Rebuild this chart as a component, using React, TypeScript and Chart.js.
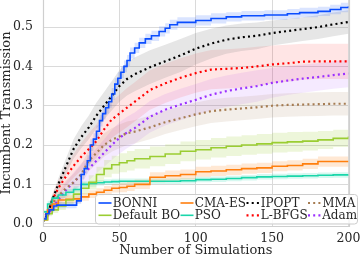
import React, { useEffect, useRef } from 'react';
import { Chart, registerables } from 'chart.js';
Chart.register(...registerables);

// ---------- data ----------
const X = [0, 3, 6, 10, 15, 20, 25, 30, 35, 40, 45, 50, 55, 60, 70, 80, 90, 100, 110, 120, 130, 140, 150, 160, 170, 180, 190, 200];

const BONNI_X = [0, 2, 4, 7, 9, 22, 25, 27, 29, 31, 33, 35, 37, 39, 41, 43, 45, 47, 49, 51, 53, 55, 57, 60, 63, 67, 71, 76, 80, 83, 88, 100, 110, 120, 130, 145, 160, 168, 180, 188, 195, 200];
const BONNI = [0.012, 0.025, 0.035, 0.045, 0.047, 0.058, 0.125, 0.14, 0.16, 0.2, 0.215, 0.235, 0.262, 0.28, 0.295, 0.31, 0.33, 0.355, 0.37, 0.385, 0.4, 0.415, 0.434, 0.447, 0.46, 0.47, 0.478, 0.489, 0.497, 0.506, 0.512, 0.517, 0.522, 0.526, 0.529, 0.531, 0.534, 0.537, 0.54, 0.545, 0.55, 0.553];
const BONNI_SD = [0.004, 0.005, 0.006, 0.007, 0.008, 0.008, 0.012, 0.013, 0.014, 0.015, 0.015, 0.015, 0.015, 0.015, 0.015, 0.015, 0.015, 0.015, 0.015, 0.015, 0.015, 0.014, 0.014, 0.013, 0.013, 0.013, 0.013, 0.013, 0.013, 0.013, 0.013, 0.013, 0.013, 0.012, 0.012, 0.012, 0.012, 0.012, 0.012, 0.012, 0.012, 0.012];

const DEFAULT_BO = [0.01, 0.025, 0.035, 0.045, 0.06, 0.075, 0.09, 0.105, 0.125, 0.14, 0.15, 0.155, 0.16, 0.165, 0.171, 0.177, 0.184, 0.188, 0.193, 0.197, 0.2, 0.203, 0.206, 0.208, 0.21, 0.213, 0.217, 0.222];
const DEFAULT_BO_SD = [0.003, 0.006, 0.008, 0.01, 0.012, 0.014, 0.016, 0.018, 0.02, 0.022, 0.023, 0.024, 0.025, 0.025, 0.025, 0.025, 0.025, 0.025, 0.025, 0.025, 0.025, 0.025, 0.025, 0.025, 0.024, 0.023, 0.022, 0.022];

const CMA_ES = [0.01, 0.035, 0.05, 0.06, 0.062, 0.063, 0.068, 0.075, 0.08, 0.085, 0.09, 0.092, 0.095, 0.1, 0.118, 0.122, 0.125, 0.132, 0.134, 0.137, 0.14, 0.142, 0.146, 0.148, 0.152, 0.158, 0.158, 0.158];
const CMA_ES_SD = [0.003, 0.008, 0.01, 0.01, 0.01, 0.01, 0.01, 0.01, 0.01, 0.011, 0.011, 0.012, 0.012, 0.012, 0.013, 0.013, 0.013, 0.013, 0.013, 0.013, 0.013, 0.013, 0.013, 0.013, 0.013, 0.013, 0.013, 0.013];

const PSO = [0.03, 0.05, 0.065, 0.073, 0.08, 0.087, 0.1, 0.102, 0.104, 0.106, 0.107, 0.108, 0.108, 0.108, 0.108, 0.108, 0.109, 0.112, 0.113, 0.115, 0.117, 0.119, 0.12, 0.121, 0.122, 0.123, 0.124, 0.125];
const PSO_SD = [0.005, 0.008, 0.008, 0.008, 0.008, 0.008, 0.008, 0.008, 0.007, 0.007, 0.007, 0.007, 0.007, 0.007, 0.007, 0.007, 0.007, 0.007, 0.007, 0.007, 0.007, 0.007, 0.007, 0.007, 0.007, 0.007, 0.007, 0.007];

const IPOPT = [0.005, 0.023, 0.06, 0.1, 0.145, 0.19, 0.22, 0.245, 0.275, 0.3, 0.325, 0.35, 0.368, 0.38, 0.398, 0.413, 0.428, 0.445, 0.458, 0.468, 0.474, 0.478, 0.485, 0.49, 0.495, 0.5, 0.507, 0.513];
const IPOPT_SD = [0.003, 0.008, 0.012, 0.015, 0.02, 0.025, 0.028, 0.03, 0.033, 0.035, 0.037, 0.04, 0.042, 0.043, 0.043, 0.042, 0.042, 0.04, 0.038, 0.036, 0.035, 0.034, 0.032, 0.031, 0.03, 0.03, 0.03, 0.03];

const L_BFGS = [0.01, 0.03, 0.06, 0.09, 0.12, 0.147, 0.17, 0.19, 0.21, 0.24, 0.265, 0.28, 0.295, 0.31, 0.34, 0.357, 0.371, 0.383, 0.392, 0.394, 0.396, 0.4, 0.405, 0.408, 0.412, 0.413, 0.413, 0.413];
const L_BFGS_SD = [0.003, 0.01, 0.015, 0.02, 0.025, 0.03, 0.035, 0.04, 0.043, 0.045, 0.047, 0.048, 0.05, 0.05, 0.05, 0.05, 0.05, 0.05, 0.05, 0.05, 0.05, 0.05, 0.048, 0.047, 0.046, 0.045, 0.045, 0.045];

const MMA = [0.01, 0.03, 0.05, 0.07, 0.09, 0.105, 0.125, 0.16, 0.18, 0.2, 0.213, 0.222, 0.23, 0.234, 0.245, 0.258, 0.268, 0.278, 0.286, 0.29, 0.293, 0.296, 0.3, 0.302, 0.303, 0.304, 0.305, 0.305];
const MMA_SD = [0.003, 0.01, 0.015, 0.018, 0.02, 0.022, 0.025, 0.027, 0.028, 0.03, 0.03, 0.03, 0.03, 0.03, 0.03, 0.03, 0.03, 0.03, 0.03, 0.03, 0.03, 0.03, 0.03, 0.03, 0.03, 0.03, 0.03, 0.03];

const ADAM = [0.01, 0.02, 0.04, 0.06, 0.085, 0.105, 0.125, 0.14, 0.16, 0.18, 0.2, 0.218, 0.232, 0.243, 0.272, 0.29, 0.303, 0.315, 0.328, 0.337, 0.344, 0.35, 0.358, 0.364, 0.369, 0.373, 0.378, 0.382];
const ADAM_SD = [0.003, 0.008, 0.012, 0.015, 0.02, 0.025, 0.028, 0.03, 0.032, 0.035, 0.038, 0.04, 0.04, 0.04, 0.04, 0.04, 0.04, 0.04, 0.04, 0.04, 0.04, 0.04, 0.038, 0.037, 0.036, 0.035, 0.035, 0.035];

const LABELS = ['BONNI', 'Default BO', 'CMA-ES', 'PSO', 'IPOPT', 'L-BFGS', 'MMA', 'Adam'];
const XS = [BONNI_X, X, X, X, X, X, X, X];
const VALUES = [BONNI, DEFAULT_BO, CMA_ES, PSO, IPOPT, L_BFGS, MMA, ADAM];
const SPREADS = [BONNI_SD, DEFAULT_BO_SD, CMA_ES_SD, PSO_SD, IPOPT_SD, L_BFGS_SD, MMA_SD, ADAM_SD];

const X_TICKS = [0, 50, 100, 150, 200];
const Y_TICKS = [0.0, 0.1, 0.2, 0.3, 0.4, 0.5];
const X_TITLE = 'Number of Simulations';
const Y_TITLE = 'Incumbent Transmission';

// ---------- styles ----------
const STYLES = [
  { color: '#0a4dff', band: 'rgba(10,77,255,0.15)', dotted: false, stepped: true },
  { color: '#9acd32', band: 'rgba(154,205,50,0.18)', dotted: false, stepped: true },
  { color: '#ff7f0e', band: 'rgba(255,127,14,0.18)', dotted: false, stepped: true },
  { color: '#1ad6aa', band: 'rgba(26,214,170,0.18)', dotted: false, stepped: true },
  { color: '#000000', band: 'rgba(128,128,128,0.2)', dotted: true, stepped: false },
  { color: '#ff0000', band: 'rgba(255,0,0,0.1)', dotted: true, stepped: false },
  { color: '#a67c52', band: 'rgba(166,124,82,0.13)', dotted: true, stepped: false },
  { color: '#9b30ff', band: 'rgba(155,48,255,0.1)', dotted: true, stepped: false },
];

const FONT = 'DejaVu Serif';
const TEXT = '#262626';

const framePlugin = {
  id: 'frame',
  afterDatasetsDraw(chart: any) {
    const { ctx, chartArea: a } = chart;
    ctx.save();
    ctx.strokeStyle = '#cfcfcf';
    ctx.lineWidth = 1.2;
    ctx.beginPath();
    ctx.moveTo(Math.round(a.left) + 0.5, a.top);
    ctx.lineTo(Math.round(a.left) + 0.5, Math.round(a.bottom) + 0.5);
    ctx.lineTo(Math.round(a.right) + 0.5, Math.round(a.bottom) + 0.5);
    ctx.lineTo(Math.round(a.right) + 0.5, a.top);
    ctx.stroke();
    ctx.restore();
  },
};

const LEGEND_BOX = { x: 95.5, y: 194.5, w: 262, h: 29.5 };
const LEGEND_COLS = [98.5, 180.5, 246.5, 308];
const LEGEND_ROWS = [203, 215.3];

const legendPlugin = {
  id: 'boxLegend',
  afterDraw(chart: any) {
    const { ctx } = chart;
    ctx.save();
    ctx.font = `12px "${FONT}"`;
    const handle = 13;
    const pad = 1.2;
    const { x: x0, y: y0, w, h } = LEGEND_BOX;
    const r = 3;
    ctx.beginPath();
    ctx.moveTo(x0 + r, y0);
    ctx.lineTo(x0 + w - r, y0);
    ctx.arcTo(x0 + w, y0, x0 + w, y0 + r, r);
    ctx.lineTo(x0 + w, y0 + h - r);
    ctx.arcTo(x0 + w, y0 + h, x0 + w - r, y0 + h, r);
    ctx.lineTo(x0 + r, y0 + h);
    ctx.arcTo(x0, y0 + h, x0, y0 + h - r, r);
    ctx.lineTo(x0, y0 + r);
    ctx.arcTo(x0, y0, x0 + r, y0, r);
    ctx.closePath();
    ctx.fillStyle = 'rgba(255,255,255,0.8)';
    ctx.fill();
    ctx.strokeStyle = '#cccccc';
    ctx.lineWidth = 1;
    ctx.stroke();
    for (let c = 0; c < 4; c++) {
      const cx = LEGEND_COLS[c];
      for (let rr = 0; rr < 2; rr++) {
        const i = c * 2 + rr;
        const st = STYLES[i];
        const y = LEGEND_ROWS[rr];
        ctx.beginPath();
        ctx.strokeStyle = st.color;
        ctx.lineWidth = st.dotted ? 2.2 : 1.6;
        ctx.setLineDash(st.dotted ? [2, 3.2] : []);
        ctx.moveTo(cx, y);
        ctx.lineTo(cx + handle, y);
        ctx.stroke();
        ctx.setLineDash([]);
        ctx.fillStyle = TEXT;
        ctx.textBaseline = 'middle';
        ctx.textAlign = 'left';
        ctx.fillText(LABELS[i], cx + handle + pad, y + 0.5);
      }
    }
    ctx.restore();
  },
};

export default function App() {
  const ref = useRef<HTMLCanvasElement | null>(null);
  useEffect(() => {
    document.body.style.margin = '0';
    const canvas = ref.current!;
    const datasets: any[] = [];
    const pts = (xs: number[], arr: number[]) => xs.map((x, j) => ({ x, y: arr[j] }));
    VALUES.forEach((vals, i) => {
      const st = STYLES[i];
      datasets.push({
        label: LABELS[i],
        data: pts(XS[i], vals),
        borderColor: st.color,
        borderWidth: st.dotted ? 2.2 : 1.6,
        borderDash: st.dotted ? [2, 3.2] : [],
        borderCapStyle: 'butt',
        stepped: st.stepped ? 'before' : false,
        pointRadius: 0,
        fill: false,
        tension: 0,
        order: 0,
      });
    });
    VALUES.forEach((vals, i) => {
      const st = STYLES[i];
      const sd = SPREADS[i];
      datasets.push({
        label: '_lo',
        data: pts(XS[i], vals.map((v, j) => v - sd[j])),
        borderColor: 'transparent',
        borderWidth: 0,
        pointRadius: 0,
        fill: false,
        stepped: st.stepped ? 'before' : false,
        order: 1,
      });
      datasets.push({
        label: '_hi',
        data: pts(XS[i], vals.map((v, j) => v + sd[j])),
        borderColor: 'transparent',
        borderWidth: 0,
        pointRadius: 0,
        fill: '-1',
        backgroundColor: st.band,
        stepped: st.stepped ? 'before' : false,
        order: 1,
      });
    });

    const chart = new Chart(canvas, {
      type: 'line',
      data: { datasets },
      options: {
        animation: false,
        responsive: false,
        devicePixelRatio: 1,
        layout: { padding: { left: 0, right: 13.5, top: 0, bottom: 0 } },
        plugins: { legend: { display: false }, tooltip: { enabled: false } },
        scales: {
          x: {
            type: 'linear',
            min: 0,
            max: 200,
            afterFit: (s: any) => { s.height = 32; s.paddingLeft = 0; s.paddingRight = 0; },
            afterBuildTicks: (s: any) => { s.ticks = X_TICKS.map((v) => ({ value: v })); },
            grid: { color: '#dadada', lineWidth: 1, drawTicks: false },
            border: { display: false },
            ticks: { padding: 5, color: TEXT, font: { family: FONT, size: 12.5 }, maxRotation: 0 },
            title: { display: true, text: X_TITLE, color: TEXT, font: { family: FONT, size: 13, lineHeight: 1.2 }, padding: 0 },
          },
          y: {
            type: 'linear',
            min: -0.006,
            max: 0.569,
            afterFit: (s: any) => { s.width = 43; s.paddingTop = 0; s.paddingBottom = 0; },
            afterBuildTicks: (s: any) => { s.ticks = Y_TICKS.map((v) => ({ value: v })); },
            grid: { color: '#dadada', lineWidth: 1, drawTicks: false },
            border: { display: false },
            ticks: { padding: 10, color: TEXT, font: { family: FONT, size: 12.5 }, callback: (v: any) => Number(v).toFixed(1) },
            title: { display: true, text: Y_TITLE, color: TEXT, font: { family: FONT, size: 13, lineHeight: 1.0 }, padding: 0 },
          },
        },
      },
      plugins: [framePlugin, legendPlugin],
    } as any);
    return () => chart.destroy();
  }, []);
  return <canvas ref={ref} width={362} height={258} style={{ display: 'block' }} />;
}
